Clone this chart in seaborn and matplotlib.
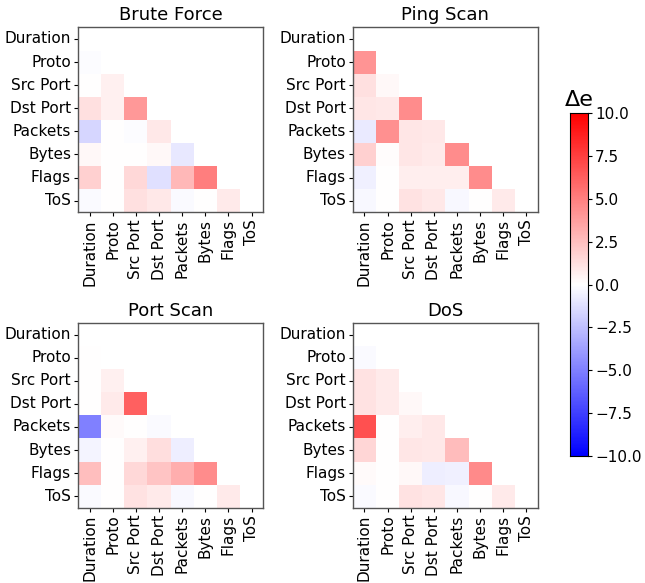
import numpy as np
import pandas as pd
import matplotlib
matplotlib.use("Agg")
import matplotlib.pyplot as plt
import seaborn as sns

features = ["Duration", "Proto", "Src Port", "Dst Port", "Packets", "Bytes", "Flags", "ToS"]
titles = ["Brute Force", "Ping Scan", "Port Scan", "DoS"]

# lower-triangle rows (row i has i values, columns Duration..)
brute_force = [
    [],
    [-0.1],
    [0.0, 0.6],
    [1.2, 0.6, 4.0],
    [-1.6, 0.0, -0.1, 0.9],
    [0.3, 0.0, 0.0, 0.3, -0.9],
    [1.8, 0.0, 1.5, -1.2, 2.8, 5.0],
    [-0.2, 0.0, 1.2, 0.9, -0.2, 0.0, 0.8],
]
ping_scan = [
    [],
    [4.2],
    [1.2, 0.3],
    [1.0, 0.9, 4.5],
    [-0.8, 4.3, 1.0, 0.9],
    [1.8, 0.1, 1.0, 0.8, 4.5],
    [-0.6, 0.0, 0.7, 0.7, 0.7, 4.5],
    [-0.3, 0.0, 1.1, 0.9, -0.3, 0.0, 0.8],
]
port_scan = [
    [],
    [0.0],
    [0.0, 0.6],
    [0.0, 0.8, 6.2],
    [-5.0, 0.2, 0.0, -0.2],
    [-0.4, 0.0, 0.6, 1.3, -0.7],
    [2.5, 0.0, 1.5, 2.3, 3.2, 4.5],
    [-0.2, 0.0, 1.1, 0.8, -0.3, 0.0, 0.8],
]
dos = [
    [],
    [-0.2],
    [1.1, 0.8],
    [1.1, 0.8, 0.3],
    [6.8, 0.0, 0.7, 0.9],
    [1.6, 0.0, 1.0, 0.9, 2.6],
    [0.2, 0.0, 0.3, -0.7, -0.6, 4.6],
    [-0.2, 0.0, 1.1, 1.0, -0.3, 0.0, 0.8],
]
series = [brute_force, ping_scan, port_scan, dos]


def to_frame(rows):
    n = len(features)
    m = np.full((n, n), np.nan)
    for i, r in enumerate(rows):
        for j, v in enumerate(r):
            m[i, j] = v
    return pd.DataFrame(m, index=features, columns=features)


sns.set_style("white")
plt.rcParams["font.family"] = ["DejaVu Sans"]
plt.rcParams["text.color"] = "black"
plt.rcParams["xtick.color"] = "black"
plt.rcParams["ytick.color"] = "black"
plt.rcParams["axes.labelcolor"] = "black"

fig = plt.figure(figsize=(6.45, 5.83), dpi=100)
w, h = 0.287, 0.317
positions = [
    (0.121, 0.636), (0.547, 0.636),
    (0.121, 0.129), (0.547, 0.129),
]
cax = fig.add_axes([0.884, 0.218, 0.028, 0.588])

for k, (rows, title) in enumerate(zip(series, titles)):
    ax = fig.add_axes([positions[k][0], positions[k][1], w, h])
    df = to_frame(rows)
    mask = np.triu(np.ones((8, 8), dtype=bool))
    sns.heatmap(df, mask=mask, cmap="bwr", vmin=-10, vmax=10, ax=ax,
                cbar=(k == 0), cbar_ax=cax if k == 0 else None,
                square=False)
    ax.set_title(title, fontsize=13, color="black", pad=5)
    ax.tick_params(axis="both", which="both", length=3, width=0.8, pad=2,
                   labelsize=11, left=True, bottom=True,
                   color="black", labelcolor="black")
    ax.set_xticklabels(features, rotation=90)
    ax.set_yticklabels(features, rotation=0)
    for s in ax.spines.values():
        s.set_visible(True)
        s.set_color("#555555")
        s.set_linewidth(1)

cax.tick_params(labelsize=11, length=3, pad=2, color="black", labelcolor="black")
cax.set_title("Δe", fontsize=16, pad=5, color="black")
for s in cax.spines.values():
    s.set_visible(True)
    s.set_color("black")

fig.savefig("out.png", dpi=100)
